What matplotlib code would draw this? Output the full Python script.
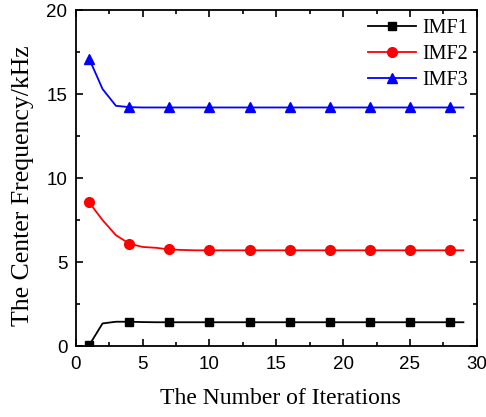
import numpy as np
import matplotlib
matplotlib.use("Agg")
import matplotlib.pyplot as plt
from matplotlib.ticker import MultipleLocator

# iterations 1..29, markers every 3rd point
iteracoes = list(range(1, 30))
imf1 = [0.05, 1.35, 1.45, 1.45, 1.43, 1.42, 1.42] + [1.42] * 22
imf2 = [8.55, 7.5, 6.6, 6.1, 5.9, 5.85, 5.75, 5.72] + [5.7] * 21
imf3 = [17.1, 15.3, 14.3, 14.22] + [14.2] * 25

fig = plt.figure(figsize=(4.86, 4.17), dpi=100)
ax = fig.add_axes([0.156, 0.170, 0.825, 0.806])

ax.plot(iteracoes, imf1, color='black', marker='s', markersize=5.5, markevery=3, lw=1.3, label='IMF1')
ax.plot(iteracoes, imf2, color='red', marker='o', markersize=7, markevery=3, lw=1.3, label='IMF2')
ax.plot(iteracoes, imf3, color='blue', marker='^', markersize=7, markevery=3, lw=1.3, label='IMF3')

ax.set_xlim(0, 30)
ax.set_ylim(0, 20)
ax.xaxis.set_major_locator(MultipleLocator(5))
ax.xaxis.set_minor_locator(MultipleLocator(2.5))
ax.yaxis.set_major_locator(MultipleLocator(5))
ax.yaxis.set_minor_locator(MultipleLocator(2.5))
ax.tick_params(which='both', direction='in', top=True, right=True, width=1.2)
ax.tick_params(which='major', length=5, labelsize=13.5)
ax.tick_params(which='minor', length=3)
ax.tick_params(axis='x', which='major', pad=7)
ax.tick_params(axis='y', which='major', pad=6)
for lab in ax.get_xticklabels() + ax.get_yticklabels():
    lab.set_family('Liberation Sans')
for sp in ax.spines.values():
    sp.set_linewidth(1.3)

ax.set_xlabel('The Number of Iterations', family='Liberation Serif', fontsize=17)
ax.set_ylabel('The Center Frequency/kHz', family='Liberation Serif', fontsize=18.5)
ax.xaxis.set_label_coords(0.51, -0.125)
ax.yaxis.set_label_coords(-0.105, 0.476)

leg = ax.legend(loc='upper right', frameon=False, prop={'family': 'Liberation Serif', 'size': 14.5},
                handlelength=2.4, handletextpad=0.3, borderaxespad=0.05, labelspacing=0.35)

fig.savefig('out.png', dpi=100)
